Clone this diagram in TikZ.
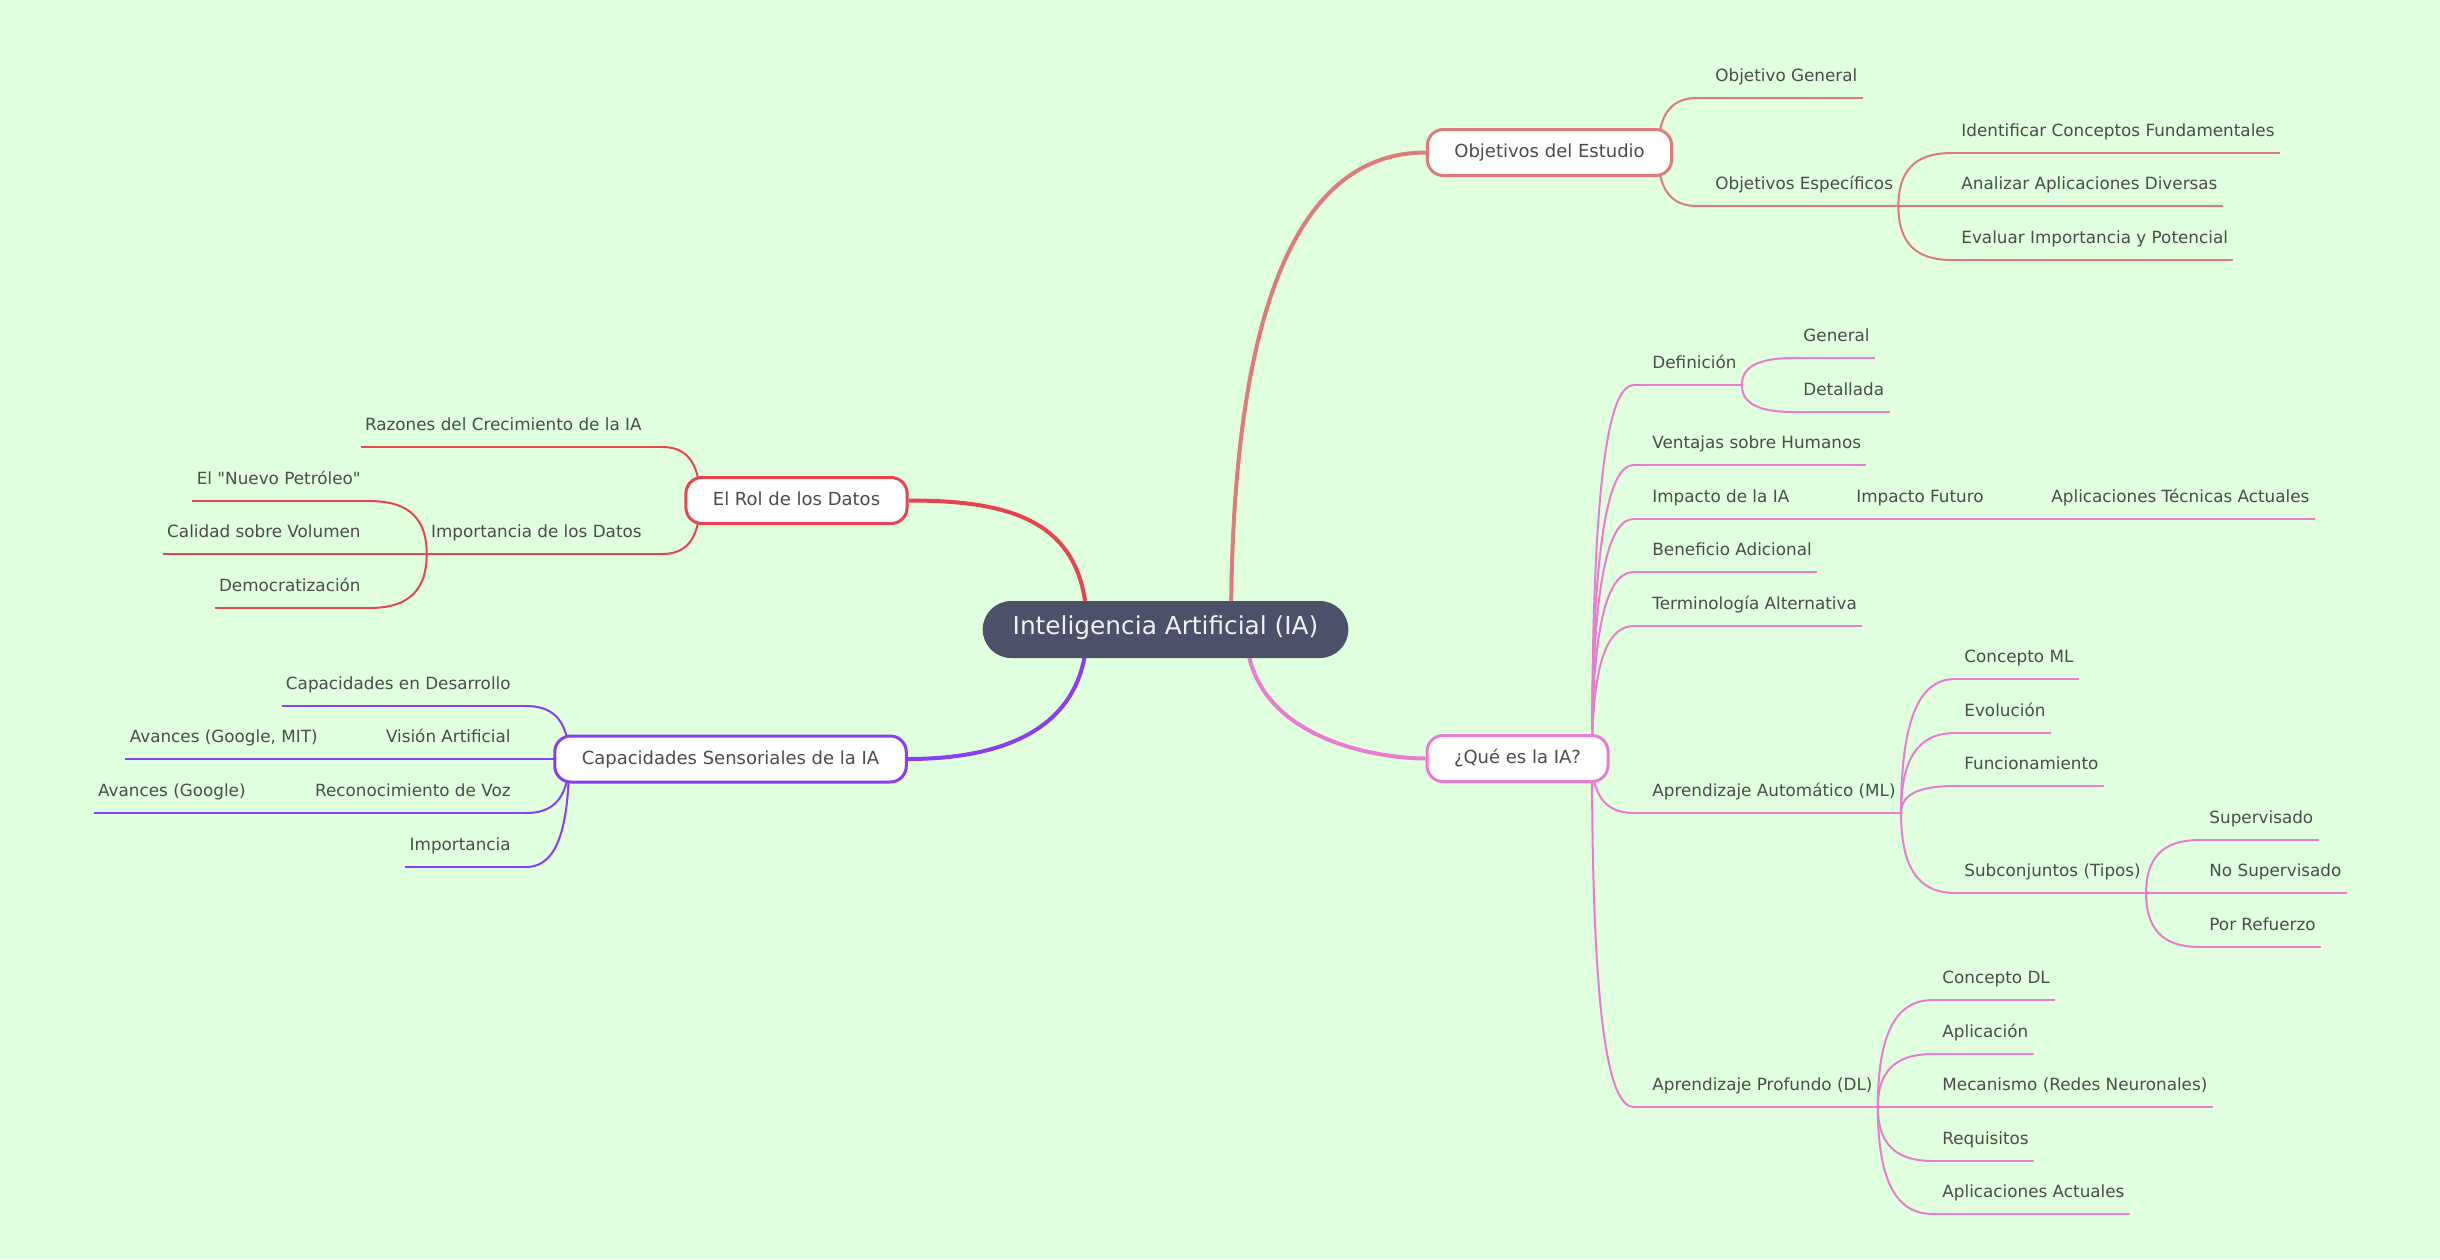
\documentclass[tikz,border=0pt]{standalone}
\usepackage{fontspec}
\setmainfont{DejaVu Sans}[Ligatures=TeXOff]
\usetikzlibrary{calc}
\definecolor{bgc}{HTML}{DFFFDF}
\definecolor{txt}{HTML}{4B4B4B}
\definecolor{rootc}{HTML}{4C5068}
\definecolor{objc}{HTML}{E07A7A}
\definecolor{quec}{HTML}{EA7BD0}
\definecolor{rolc}{HTML}{E6454F}
\definecolor{capc}{HTML}{8A3DF2}
\pgfdeclarelayer{back}
\pgfdeclarelayer{links}
\pgfsetlayers{back,links,main}
\begin{document}
\begin{tikzpicture}[x=0.5pt,y=-0.5pt,
    link/.style 2 args={to path={let \p1=(\tikztostart),\p2=(\tikztotarget) in
      .. controls (\x1,{\y1+#1*((\y2)-(\y1))}) and ({\x1+#2*((\x2)-(\x1))},\y2) .. (\tikztotarget)}},
    lk/.style={link={0.8}{0.45}},
    rootlink/.style={line width=2pt},
    sublink/.style={line width=1pt},
    root/.style={fill=rootc, text=white!95!black, rounded corners=14.25pt, minimum height=28.5pt,
      inner xsep=15pt, font=\fontsize{12.4}{14}\selectfont, text height=0.76em, text depth=0.22em},
    box/.style={draw=#1, fill=white, line width=1.5pt, rounded corners=8pt, minimum height=23pt,
      inner xsep=13.5pt, text=txt, font=\fontsize{9}{11}\selectfont, text height=0.76em, text depth=0.22em},
    leaf/.style={inner sep=0pt, text depth=8pt, text=txt, font=\fontsize{8.4}{10}\selectfont},
    rnode/.style={leaf, anchor=south west, execute at begin node={\hskip#1}, execute at end node={\hskip2.5pt}},
    lnode/.style={leaf, anchor=south east, execute at begin node={\hskip2pt}, execute at end node={\hskip#1}}]
  \begin{pgfonlayer}{back}
    \fill[bgc] (0,0) rectangle (2440,1259);
  \end{pgfonlayer}

  \node[root] (0) at (1165.5,629.5) {Inteligencia Artificial (IA)};
  \node[box=objc] (1) at (1549.5,152.5) {Objetivos del Estudio};
  \node[box=quec] (2) at (1517.5,758.5) {¿Qué es la IA?};
  \node[box=rolc] (3) at (796.5,500.5) {El Rol de los Datos};
  \node[box=capc] (4) at (730.5,759) {Capacidades Sensoriales de la IA};

  \coordinate (0a) at (1231,629);
  \coordinate (0b) at (1246,629);
  \coordinate (0c) at (1087,629);
  \coordinate (1o) at (1658,152.5);
  \coordinate (2o) at (1592,758.5);
  \coordinate (3o) at (700,500.5);
  \coordinate (4o) at (569,759);

  \node[rnode=9pt] (11) at (1697,98) {Objetivo General};
  \node[rnode=9pt] (12) at (1697,206) {Objetivos Específicos};
  \node[rnode=4.5pt] (121) at (1952,153) {Identificar Conceptos Fundamentales};
  \node[rnode=4.5pt] (122) at (1952,206) {Analizar Aplicaciones Diversas};
  \node[rnode=4.5pt] (123) at (1952,260) {Evaluar Importancia y Potencial};

  \node[rnode=9pt] (21) at (1634,385) {Definición};
  \node[rnode=4.5pt] (211) at (1794,358) {General};
  \node[rnode=4.5pt] (212) at (1794,412) {Detallada};
  \node[rnode=9pt] (22) at (1634,465) {Ventajas sobre Humanos};
  \node[rnode=9pt] (23) at (1634,519) {Impacto de la IA};
  \node[rnode=4.5pt] (231) at (1847,519) {Impacto Futuro};
  \node[rnode=4.5pt] (2311) at (2042,519) {Aplicaciones Técnicas Actuales};
  \node[rnode=9pt] (24) at (1634,572) {Beneficio Adicional};
  \node[rnode=9pt] (25) at (1634,626) {Terminología Alternativa};
  \node[rnode=9pt] (26) at (1634,813) {Aprendizaje Automático (ML)};
  \node[rnode=4.5pt] (261) at (1955,679) {Concepto ML};
  \node[rnode=4.5pt] (262) at (1955,733) {Evolución};
  \node[rnode=4.5pt] (263) at (1955,786) {Funcionamiento};
  \node[rnode=4.5pt] (264) at (1955,893) {Subconjuntos (Tipos)};
  \node[rnode=4.5pt] (2641) at (2200,840) {Supervisado};
  \node[rnode=4.5pt] (2642) at (2200,893) {No Supervisado};
  \node[rnode=4.5pt] (2643) at (2200,947) {Por Refuerzo};
  \node[rnode=9pt] (27) at (1634,1107) {Aprendizaje Profundo (DL)};
  \node[rnode=4.5pt] (271) at (1933,1000) {Concepto DL};
  \node[rnode=4.5pt] (272) at (1933,1054) {Aplicación};
  \node[rnode=4.5pt] (273) at (1933,1107) {Mecanismo (Redes Neuronales)};
  \node[rnode=4.5pt] (274) at (1933,1161) {Requisitos};
  \node[rnode=4.5pt] (275) at (1933,1214) {Aplicaciones Actuales};

  \node[lnode=10pt] (31) at (662,447) {Razones del Crecimiento de la IA};
  \node[lnode=10pt] (32) at (662,554) {Importancia de los Datos};
  \node[lnode=4pt] (321) at (369,501) {El "Nuevo Petróleo"};
  \node[lnode=4pt] (322) at (369,554) {Calidad sobre Volumen};
  \node[lnode=4pt] (323) at (369,608) {Democratización};

  \node[lnode=7.5pt] (41) at (526,706) {Capacidades en Desarrollo};
  \node[lnode=7.5pt] (42) at (526,759) {Visión Artificial};
  \node[lnode=4pt] (421) at (326,759) {Avances (Google, MIT)};
  \node[lnode=7.5pt] (43) at (526,813) {Reconocimiento de Voz};
  \node[lnode=4pt] (431) at (254,813) {Avances (Google)};
  \node[lnode=7.5pt] (44) at (526,867) {Importancia};

  \begin{pgfonlayer}{links}
    \draw[objc, rootlink] (0a) to[link={0.69}{0.36}] (1.west);
    \draw[quec, rootlink] (0b) to[link={0.86}{0.75}] (2.west);
    \draw[rolc, rootlink] (0c) to[link={0.85}{0.43}] (3.east);
    \draw[capc, rootlink] (0c) to[link={0.78}{0.48}] (4.east);

    \foreach \k in {11,12} \draw[objc, sublink] (1o) to[lk] (\k.south west);
    \foreach \k in {121,122,123} \draw[objc, sublink] (12.south east) to[lk] (\k.south west);
    \foreach \k in {11,12,121,122,123} \draw[objc, sublink] (\k.south west) -- (\k.south east);

    \foreach \k in {21,22,23,24,25,26,27} \draw[quec, sublink] (2o) to[lk] (\k.south west);
    \foreach \k in {211,212} \draw[quec, sublink] (21.south east) to[lk] (\k.south west);
    \draw[quec, sublink] (23.south east) -- (231.south west) (231.south east) -- (2311.south west);
    \foreach \k in {261,262,263,264} \draw[quec, sublink] (26.south east) to[lk] (\k.south west);
    \foreach \k in {2641,2642,2643} \draw[quec, sublink] (264.south east) to[lk] (\k.south west);
    \foreach \k in {271,272,273,274,275} \draw[quec, sublink] (27.south east) to[lk] (\k.south west);
    \foreach \k in {21,211,212,22,23,231,2311,24,25,26,261,262,263,264,2641,2642,2643,27,271,272,273,274,275}
      \draw[quec, sublink] (\k.south west) -- (\k.south east);

    \foreach \k in {31,32} \draw[rolc, sublink] (3o) to[lk] (\k.south east);
    \foreach \k in {321,322,323} \draw[rolc, sublink] (32.south west) to[lk] (\k.south east);
    \foreach \k in {31,32,321,322,323} \draw[rolc, sublink] (\k.south west) -- (\k.south east);

    \foreach \k in {41,42,43,44} \draw[capc, sublink] (4o) to[lk] (\k.south east);
    \draw[capc, sublink] (42.south west) -- (421.south east) (43.south west) -- (431.south east);
    \foreach \k in {41,42,421,43,431,44} \draw[capc, sublink] (\k.south west) -- (\k.south east);
  \end{pgfonlayer}
\end{tikzpicture}
\end{document}
